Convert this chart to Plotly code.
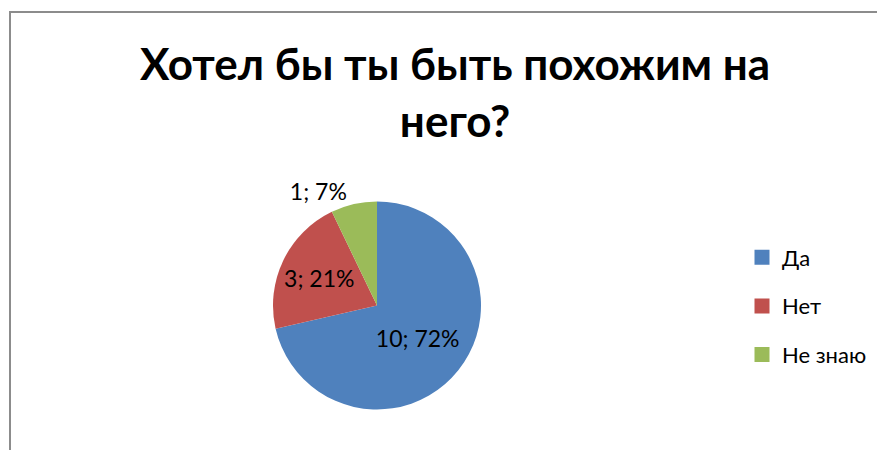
import plotly.graph_objects as go

categories = ["Да", "Нет", "Не знаю"]
values = [10, 3, 1]
percents = [72, 21, 7]
colors = ["#4F81BD", "#C0504D", "#9BBB59"]
title_text = "Хотел бы ты быть похожим на<br>него?"

FONT = "Lato, Calibri, 'Open Sans', sans-serif"
W, H = 885, 450
OFF = 8  # page body margin offset


def px(x):
    return (x - OFF) / W


def py(y):
    return (H - (y - OFF)) / H


fig = go.Figure()
fig.add_trace(go.Pie(
    labels=categories,
    values=values,
    customdata=percents,
    texttemplate="%{value}; %{customdata}%",
    textposition=["inside", "inside", "outside"],
    insidetextorientation="horizontal",
    textfont=dict(family=FONT, size=23, color="black"),
    marker=dict(colors=colors, line=dict(width=0)),
    sort=False,
    direction="clockwise",
    rotation=0,
    showlegend=False,
    hoverinfo="label+value+percent",
    domain=dict(x=[px(273), px(481)], y=[py(410), py(201)]),
))

# legend entries (one group per category to control spacing)
for i, (c, col) in enumerate(zip(categories, colors)):
    fig.add_trace(go.Scatter(
        x=[None], y=[None], mode="markers", name=c,
        marker=dict(symbol="square", size=15, color=col),
        legendgroup=str(i), showlegend=True,
    ))

fig.update_layout(
    width=W, height=H,
    margin=dict(l=0, r=0, t=0, b=0),
    paper_bgcolor="white", plot_bgcolor="white",
    xaxis=dict(visible=False), yaxis=dict(visible=False),
    legend=dict(
        x=px(742), y=py(306), xanchor="left", yanchor="middle",
        font=dict(family=FONT, size=22, color="black"),
        tracegroupgap=17, itemwidth=30, bgcolor="rgba(0,0,0,0)",
    ),
    shapes=[dict(type="rect", xref="paper", yref="paper",
                 x0=px(10), x1=1.05, y0=-0.05, y1=py(12),
                 line=dict(color="#8C8C8C", width=2), fillcolor="rgba(0,0,0,0)")],
    annotations=[dict(text="<b>" + title_text + "</b>", xref="paper", yref="paper",
                      x=px(455), y=py(92), xanchor="center", yanchor="middle",
                      showarrow=False, align="center",
                      font=dict(family=FONT, size=44, color="black"))],
)

fig.write_html("out.html")
